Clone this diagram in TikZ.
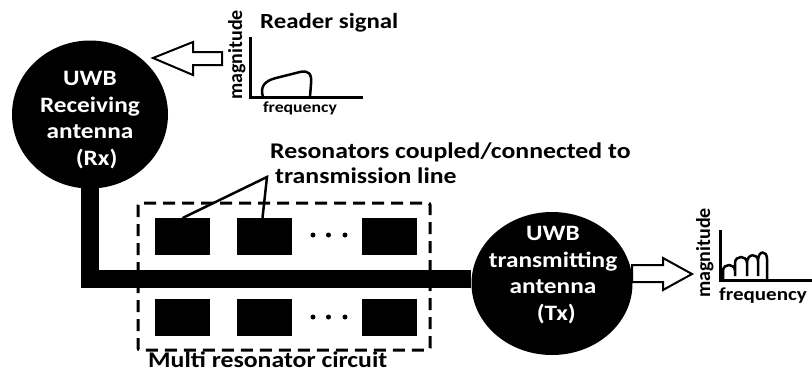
\documentclass[tikz,border=0pt]{standalone}
\usepackage{fontspec}
\setmainfont{Carlito}[FakeStretch=1.15]
\newfontfamily\plainf{Carlito}
\usetikzlibrary{shapes.geometric}
\begin{document}
\begin{tikzpicture}[x=1pt,y=-1pt,
  ant/.style={ellipse, fill=black, draw=none, inner sep=0pt},
  anttext/.style={text=white, align=center, inner sep=0pt, font=\bfseries\fontsize{22pt}{26.5pt}\selectfont},
  res/.style={rectangle, fill=black, draw=none, minimum width=55pt, minimum height=37pt, inner sep=0pt},
  lbl/.style={font=\bfseries\fontsize{22.4pt}{27pt}\selectfont, inner sep=0pt},
  axlbl/.style={font=\plainf\bfseries\fontsize{20pt}{24pt}\selectfont, inner sep=0pt},
  axisline/.style={line width=3pt, line join=miter},
  lead/.style={line width=2.5pt, line cap=round},
  curve/.style={line width=2.5pt, line join=round},
  hollow/.style={draw=black, fill=white, line width=2pt, line join=miter},
  dotn/.style={circle, fill=black, inner sep=0pt, minimum size=5pt},
  trace/.style={line width=18pt, line join=miter},
  dashbox/.style={line width=3pt, dash pattern=on 12pt off 7pt, rounded corners=2pt}
]
\useasboundingbox (0,0) rectangle (812,376);

% antennas
\node[ant, minimum width=156pt, minimum height=148pt] (rx) at (90,114.5) {};
\node[ant, minimum width=161pt, minimum height=143pt] (tx) at (552,283.5) {};
\node[anttext] (rxt) at (90,120) {UWB\\Receiving\\antenna\\\hspace*{0.6em}(Rx)};
\node[anttext] (txt) at (553,275) {UWB\\transmitting\\antenna\\\hspace*{0.3em}(Tx)};

% transmission line
\coordinate (corner) at (90,279);
\draw[trace] ([yshift=5pt]rx.south) -- (corner) -- (corner -| tx.west);

% multi resonator circuit
\draw[dashbox] (138,203) rectangle (430,350);
\node[res] (r1) at (182.5,236.5) {};
\node[res] (r2) at (264.5,236.5) {};
\node[res] (r3) at (389.5,236.5) {};
\node[res] (r4) at (182.5,317.5) {};
\node[res] (r5) at (264.5,317.5) {};
\node[res] (r6) at (389.5,317.5) {};
\node[dotn] (d1) at (313,235) {};
\node[dotn] (d2) at (328.5,235) {};
\node[dotn] (d3) at (345,235) {};
\node[dotn] (d4) at (313,317) {};
\node[dotn] (d5) at (328.5,317) {};
\node[dotn] (d6) at (345,317) {};

% labels
\node[lbl, anchor=base west] (lab1) at (270,158) {Resonators coupled/connected to};
\node[lbl, anchor=base west] (lab2) at (275,183) {transmission line};
\node[lbl, anchor=base west] (lab3) at (148,367) {Multi resonator circuit};
\coordinate (apex) at (267,177);
\draw[lead] ([xshift=0.5pt]r1.north) -- (apex) -- ([xshift=-2pt]r2.north);

% reader signal chart
\node[font=\bfseries\fontsize{21.6pt}{26pt}\selectfont, inner sep=0pt, anchor=base west] (lab4) at (260,28) {Reader signal};
\draw[axisline] (250,37) -- (250,97) -- (363,97);
\draw[curve] (263,97) .. controls (260,87) and (264,81) .. (276,78) -- (300,72) .. controls (309,70) and (312,74) .. (311,84) -- (310,97);
\node[axlbl, rotate=90, anchor=base] (m1) at (242,55) {magnitude};
\node[font=\bfseries\fontsize{15.4pt}{18pt}\selectfont, inner sep=0pt, anchor=base] (f1) at (300,112) {frequency};
\draw[hollow] (153,58) -- (193,42) -- (193,52) -- (222,52) -- (222,65) -- (193,65) -- (193,75) -- cycle;

% transmitted signal chart
\draw[hollow] (692,274) -- (663,258) -- (663,265) -- (632,265) -- (632,282) -- (663,282) -- (663,290) -- cycle;
\draw[axisline] (720,230) -- (720,280) -- (812,280);
\draw[curve] (723,280) -- (723,271) .. controls (723,263) and (735,263) .. (735,271) -- (735,276)
  (735,276) -- (735,263) .. controls (735,255) and (747,255) .. (747,263) -- (747,276)
  (747,263) .. controls (747,253) and (758,253) .. (758,261) -- (758,276)
  (758,261) .. controls (758,250) and (767,250) .. (767,259) -- (767,280);
\node[axlbl, rotate=90, anchor=base] (m2) at (710,253) {magnitude};
\node[font=\bfseries\fontsize{18.3pt}{22pt}\selectfont, inner sep=0pt, anchor=base] (f2) at (763,300) {frequency};
\end{tikzpicture}
\end{document}
